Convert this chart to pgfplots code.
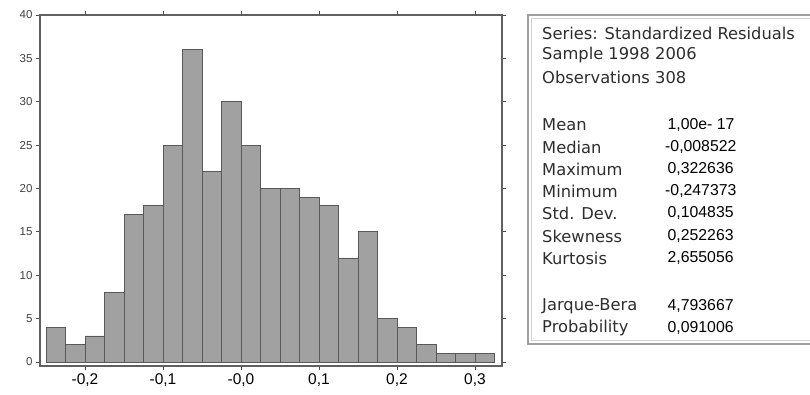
\documentclass[border=0pt]{standalone}
\usepackage{pgfplots}
\pgfplotsset{compat=1.18}
\usepackage{fontspec}
\setmainfont{Liberation Sans}
\newfontfamily\dejavu{DejaVu Sans}
\begin{document}
\begin{tikzpicture}[x=1bp,y=1bp]
\useasboundingbox (0,0) rectangle (810,394);
\begin{axis}[
  at={(40bp,28bp)}, anchor=south west,
  scale only axis, width=462bp, height=351bp,
  xmin=-0.2577, xmax=0.3346, ymin=-0.46, ymax=40,
  axis line style={gray!75!black, line width=1.2bp},
  xtick={-0.2,-0.1,0,0.1,0.2,0.3},
  xticklabels={{-0,2},{-0,1},{-0,0},{0,1},{0,2},{0,3}},
  ytick={0,5,...,40},
  tick style={gray!60!black, line width=0.8bp},
  major tick length=4bp,
  tick align=outside,
  xticklabel style={font=\fontsize{15.5bp}{17bp}\selectfont},
  yticklabel style={font=\fontsize{11.5bp}{12bp}\selectfont, text=gray!50!black},
  /pgf/number format/assume math mode=true,
]
\addplot[ybar interval, fill=black!37, draw=black!65, line width=0.8bp] coordinates {
(-0.250,4) (-0.225,2) (-0.200,3) (-0.175,8) (-0.150,17) (-0.125,18)
(-0.100,25) (-0.075,36) (-0.050,22) (-0.025,30) (0.000,25) (0.025,20)
(0.050,20) (0.075,19) (0.100,18) (0.125,12) (0.150,15) (0.175,5)
(0.200,4) (0.225,2) (0.250,1) (0.275,1) (0.300,1) (0.325,1)
};
\end{axis}
% statistics box
\draw[gray!75, line width=2.4bp] (528,50) rectangle (830,379);
\draw[gray!35, line width=0.8bp] (531.5,53.5) rectangle (830,375.5);
\begin{scope}[every node/.style={anchor=west, inner sep=0pt}]
\def\lab#1#2{\node[text=gray!35!black, font=\dejavu\fontsize{16.3bp}{18bp}\selectfont] at (542,{394-#1}) {#2};}
\def\val#1#2{\node[font=\fontsize{15.8bp}{17bp}\selectfont] at (667.5,{394-#1}) {#2};}
\def\nval#1#2{\node[font=\fontsize{15.8bp}{17bp}\selectfont] at (665,{394-#1}) {#2};}
\lab{33}{Series: Standardized Residuals}
\lab{55}{Sample 1998 2006}
\lab{77}{Observations 308}
\lab{125}{Mean}
\lab{147}{Median}
\lab{169}{Maximum}
\lab{191}{Minimum}
\lab{213}{Std. Dev.}
\lab{236}{Skewness}
\lab{258}{Kurtosis}
\lab{306}{Jarque-Bera}
\lab{328}{Probability}
\val{125}{1,00e- 17}
\nval{147}{-0,008522}
\val{169}{0,322636}
\nval{191}{-0,247373}
\val{213}{0,104835}
\val{236}{0,252263}
\val{258}{2,655056}
\val{306}{4,793667}
\val{328}{0,091006}
\end{scope}
\end{tikzpicture}
\end{document}
